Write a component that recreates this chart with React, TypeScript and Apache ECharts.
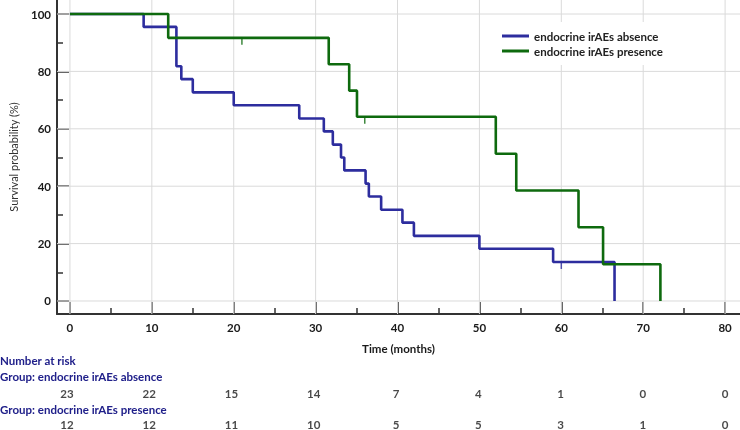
import React, { useEffect, useRef } from "react";
import * as echarts from "echarts";

const timeTicks = [0, 10, 20, 30, 40, 50, 60, 70, 80];
const timeMinorTicks = [5, 15, 25, 35, 45, 55, 65, 75];
const survTicks = [0, 20, 40, 60, 80, 100];
const survMinorTicks = [10, 30, 50, 70, 90];

const absenceTimes = [0, 9, 13, 13.6, 15, 20, 28, 31, 32.1, 33.1, 33.5, 36.1, 36.5, 38, 40.6, 42, 50, 59, 66.5];
const absenceSurv = [100, 95.5, 81.8, 77.3, 72.7, 68.2, 63.6, 59.1, 54.5, 50.0, 45.5, 40.9, 36.4, 31.8, 27.3, 22.7, 18.2, 13.6, 0];
const presenceTimes = [0, 12, 31.6, 34.1, 35.05, 52, 54.5, 62.1, 65.1, 72.1];
const presenceSurv = [100, 91.7, 82.5, 73.3, 64.2, 51.3, 38.5, 25.7, 12.8, 0];

const absenceCensorTimes = [60];
const absenceCensorSurv = [13.6];
const presenceCensorTimes = [21, 36];
const presenceCensorSurv = [91.7, 64.2];

const riskTimes = [0, 10, 20, 30, 40, 50, 60, 70, 80];
const riskAbsence = [23, 22, 15, 14, 7, 4, 1, 0, 0];
const riskPresence = [12, 12, 11, 10, 5, 5, 3, 1, 0];

const groupNames = ["endocrine irAEs absence", "endocrine irAEs presence"];

const BLUE = "#2d2d9e";
const GREEN = "#0e6a0e";
const FONT = "Lato";
const NAVY = "#20208a";
const GRIDLINE = "#dadada";

const zip = (a: number[], b: number[]) => a.map((v, i) => [v, b[i]]);

export default function App() {
  const ref = useRef<HTMLDivElement>(null);
  useEffect(() => {
    if (!ref.current) return;
    const chart = echarts.init(ref.current, null, { renderer: "svg" });
    const xMin = -1.58;
    const xMax = 81.82;
    const yMin = -4.53;
    const yMax = 104.88;
    const tickLabel = { fontFamily: FONT, fontWeight: "bold" as const, fontSize: 11.5, color: "#1a1a1a" };
    const textStyle = { fontFamily: FONT, fontWeight: "bold" as const, fontSize: 11.5, fill: NAVY, verticalAlign: "middle" as const };
    chart.setOption({
      animation: false,
      grid: [
        { left: 54, right: 0, top: 0, bottom: 116 },
        { left: 54, right: 0, top: 393, height: 31.5 },
      ],
      legend: {
        data: groupNames,
        orient: "vertical",
        left: 492,
        top: 22,
        z: 10,
        icon: "rect",
        itemWidth: 27,
        itemHeight: 3,
        itemGap: 3,
        padding: [8, 12, 8, 10],
        backgroundColor: "#fff",
        textStyle: { fontFamily: FONT, fontWeight: "bold", fontSize: 11.5, color: "#222" },
      },
      xAxis: [
        {
          type: "value",
          gridIndex: 0,
          min: xMin,
          max: xMax,
          position: "bottom",
          axisLine: { show: true, onZero: false, lineStyle: { color: "#333", width: 2 } },
          axisTick: { show: true, inside: true, length: 12, customValues: timeTicks, lineStyle: { color: "#333", width: 1.5 } },
          axisLabel: { show: true, customValues: timeTicks, margin: 7, ...tickLabel },
          splitLine: { show: false },
          name: "Time (months)",
          nameLocation: "middle",
          nameGap: 28,
          nameTextStyle: { fontFamily: FONT, fontWeight: "bold", fontSize: 11.5, color: "#1a1a1a" },
        },
        {
          type: "value",
          gridIndex: 0,
          min: xMin,
          max: xMax,
          position: "bottom",
          axisLine: { show: false, onZero: false },
          axisTick: { show: true, inside: true, length: 6, customValues: timeMinorTicks, lineStyle: { color: "#333", width: 1.5 } },
          axisLabel: { show: false },
          splitLine: { show: false },
        },
        {
          type: "value",
          gridIndex: 1,
          min: xMin,
          max: xMax,
          show: false,
        },
      ],
      yAxis: [
        {
          type: "value",
          gridIndex: 0,
          min: yMin,
          max: yMax,
          position: "left",
          axisLine: { show: true, onZero: false, lineStyle: { color: "#333", width: 2 } },
          axisTick: { show: true, inside: true, length: 12, customValues: survTicks, lineStyle: { color: "#333", width: 1.5 } },
          axisLabel: { show: true, customValues: survTicks, margin: 6, ...tickLabel },
          splitLine: { show: false },
          name: "Survival probability (%)",
          nameLocation: "middle",
          nameGap: 38,
          nameRotate: 90,
          nameTextStyle: { fontFamily: FONT, fontWeight: "normal", fontSize: 11, color: "#333" },
        },
        {
          type: "value",
          gridIndex: 0,
          min: yMin,
          max: yMax,
          position: "left",
          axisLine: { show: false, onZero: false },
          axisTick: { show: true, inside: true, length: 6, customValues: survMinorTicks, lineStyle: { color: "#333", width: 1.5 } },
          axisLabel: { show: false },
          splitLine: { show: false },
        },
        {
          type: "value",
          gridIndex: 1,
          min: 0,
          max: 1,
          show: false,
        },
      ],
      graphic: [
        { type: "text", x: 0, y: 360, style: { text: "Number at risk", ...textStyle } },
        { type: "text", x: 0, y: 376.5, style: { text: "Group: " + groupNames[0], ...textStyle } },
        { type: "text", x: 0, y: 409.5, style: { text: "Group: " + groupNames[1], ...textStyle } },
      ],
      series: [
        {
          type: "custom",
          xAxisIndex: 0,
          yAxisIndex: 0,
          silent: true,
          clip: false,
          z: 1,
          data: timeTicks.map((v) => [v, 0]),
          renderItem: (_params: any, api: any) => {
            const v = api.value(0);
            const p1 = api.coord([v, yMin]);
            const p2 = api.coord([v, yMax]);
            return {
              type: "line",
              shape: { x1: p1[0], y1: p1[1], x2: p2[0], y2: p2[1] },
              style: { stroke: GRIDLINE, lineWidth: 1 },
            };
          },
        },
        {
          type: "custom",
          xAxisIndex: 0,
          yAxisIndex: 0,
          silent: true,
          clip: false,
          z: 1,
          data: survTicks.map((v) => [0, v]),
          renderItem: (_params: any, api: any) => {
            const v = api.value(1);
            const p1 = api.coord([xMin, v]);
            const p2 = api.coord([xMax, v]);
            return {
              type: "line",
              shape: { x1: p1[0], y1: p1[1], x2: p2[0], y2: p2[1] },
              style: { stroke: GRIDLINE, lineWidth: 1 },
            };
          },
        },
        {
          name: groupNames[0],
          type: "line",
          xAxisIndex: 0,
          yAxisIndex: 0,
          step: "end",
          symbol: "none",
          data: zip(absenceTimes, absenceSurv),
          lineStyle: { color: BLUE, width: 2.6 },
          itemStyle: { color: BLUE },
          z: 3,
        },
        {
          name: groupNames[1],
          type: "line",
          xAxisIndex: 0,
          yAxisIndex: 0,
          step: "end",
          symbol: "none",
          data: zip(presenceTimes, presenceSurv),
          lineStyle: { color: GREEN, width: 2.6 },
          itemStyle: { color: GREEN },
          z: 3,
        },
        {
          type: "scatter",
          xAxisIndex: 0,
          yAxisIndex: 0,
          symbol: "rect",
          symbolSize: [1.5, 7],
          symbolOffset: [0, 3.5],
          data: zip(absenceCensorTimes, absenceCensorSurv),
          itemStyle: { color: BLUE },
          z: 3,
        },
        {
          type: "scatter",
          xAxisIndex: 0,
          yAxisIndex: 0,
          symbol: "rect",
          symbolSize: [1.5, 7],
          symbolOffset: [0, 3.5],
          data: zip(presenceCensorTimes, presenceCensorSurv),
          itemStyle: { color: GREEN },
          z: 3,
        },
        {
          type: "scatter",
          xAxisIndex: 2,
          yAxisIndex: 2,
          symbolSize: 1,
          itemStyle: { color: "rgba(0,0,0,0)" },
          data: riskTimes.map((t, i) => [t, 1, riskAbsence[i]]),
          label: { show: true, position: "inside", formatter: (p: any) => String(p.value[2]), ...tickLabel },
        },
        {
          type: "scatter",
          xAxisIndex: 2,
          yAxisIndex: 2,
          symbolSize: 1,
          itemStyle: { color: "rgba(0,0,0,0)" },
          data: riskTimes.map((t, i) => [t, 0, riskPresence[i]]),
          label: { show: true, position: "inside", formatter: (p: any) => String(p.value[2]), ...tickLabel },
        },
      ],
    });
    return () => chart.dispose();
  }, []);
  return <div ref={ref} style={{ position: "fixed", left: 0, top: 0, width: 740, height: 430 }} />;
}
